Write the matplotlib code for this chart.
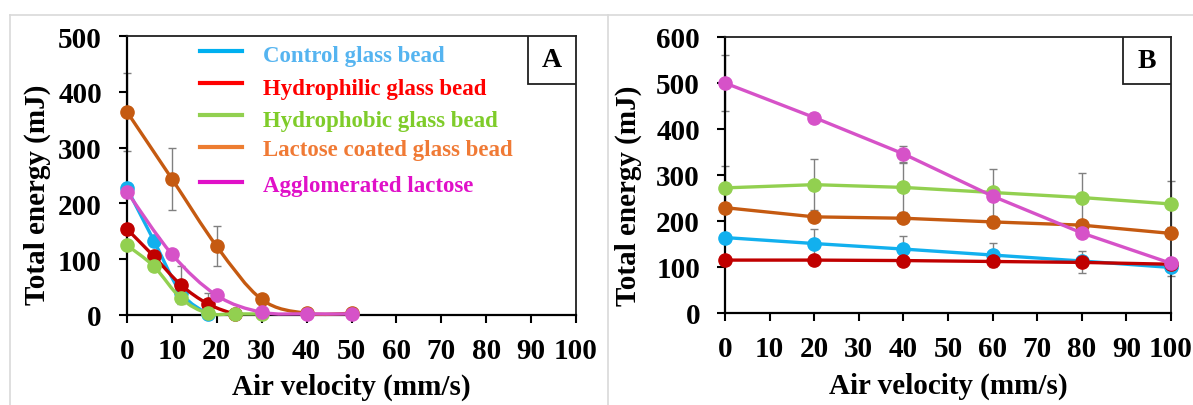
import numpy as np
import matplotlib
matplotlib.use("Agg")
import matplotlib.pyplot as plt
from matplotlib.path import Path
from matplotlib.patches import PathPatch, Rectangle
from matplotlib.lines import Line2D

plt.rcParams['font.family'] = ['Liberation Serif', 'DejaVu Serif']
plt.rcParams['font.weight'] = 'bold'

# ---------------- data: panel A ----------------
series_names = ["Control glass bead", "Hydrophilic glass bead", "Hydrophobic glass bead",
                "Lactose coated glass bead", "Agglomerated lactose"]

a_control_x = [0, 6, 12, 18]
a_control_y = [227, 133, 40, 1]
a_control_err = [10, 10, 8, 3]

a_hydrophilic_x = [0, 6, 12, 18, 24]
a_hydrophilic_y = [154, 105, 54, 20, 1]
a_hydrophilic_err = [8, 8, 34, 20, 2]

a_hydrophobic_x = [0, 6, 12, 18, 24, 30]
a_hydrophobic_y = [125, 87, 30, 3, 2, 2]
a_hydrophobic_err = [6, 6, 8, 3, 2, 2]

a_lactose_x = [0, 10, 20, 30, 40, 50]
a_lactose_y = [364, 244, 123, 28, 3, 3]
a_lactose_err = [70, 55, 36, 6, 2, 2]

a_agglom_x = [0, 10, 20, 30, 40, 50]
a_agglom_y = [221, 109, 35, 5, 2, 2]
a_agglom_err = [10, 8, 5, 2, 2, 2]

# ---------------- data: panel B ----------------
b_x = [0, 20, 40, 60, 80, 100]
b_control_y = [164, 151, 139, 126, 113, 99]
b_control_err = [8, 32, 29, 26, 10, 18]
b_hydrophilic_y = [115, 115, 114, 112, 110, 106]
b_hydrophilic_err = [5, 5, 5, 5, 24, 5]
b_hydrophobic_y = [272, 279, 273, 262, 251, 237]
b_hydrophobic_err = [48, 56, 54, 51, 53, 51]
b_lactose_y = [229, 209, 206, 198, 191, 173]
b_lactose_err = [8, 8, 8, 8, 8, 8]
b_agglom_y = [500, 425, 346, 254, 174, 108]
b_agglom_err = [60, 10, 18, 8, 6, 5]

x_ticks = list(range(0, 101, 10))
a_y_ticks = list(range(0, 501, 100))
b_y_ticks = list(range(0, 601, 100))

line_colors = ["#12b0ee", "#c00000", "#92d050", "#c55a11", "#d652c8"]
legend_line_colors = ["#00b0f0", "#ff0000", "#92d050", "#ed7d31", "#e010c8"]
legend_text_colors = ["#55b4f0", "#ff0000", "#7fcc2a", "#f07a35", "#e010c8"]
err_color = "#808080"


def smooth_path(xs, ys, t=1.0 / 6.0):
    """Cubic Bezier path through the points (Catmull-Rom style smoothing)."""
    pts = np.column_stack([xs, ys]).astype(float)
    n = len(pts)
    verts = [pts[0]]
    codes = [Path.MOVETO]
    for i in range(n - 1):
        p0 = pts[i - 1] if i > 0 else pts[i]
        p1 = pts[i]
        p2 = pts[i + 1]
        p3 = pts[i + 2] if i + 2 < n else pts[i + 1]
        c1 = p1 + (p2 - p0) * t
        c2 = p2 - (p3 - p1) * t
        verts += [c1, c2, p2]
        codes += [Path.CURVE4] * 3
    return Path(verts, codes)


fig = plt.figure(figsize=(11.93, 4.06), dpi=100)

# light grey chart-area borders
fig.add_artist(Line2D([10 / 1193, 1193 / 1193], [1 - 16 / 406] * 2, color="#d9d9d9", lw=1.2,
                      transform=fig.transFigure))
for xp in (10, 608):
    fig.add_artist(Line2D([xp / 1193] * 2, [0, 1 - 16 / 406], color="#d9d9d9", lw=1.2,
                          transform=fig.transFigure))

axA = fig.add_axes([127 / 1193, 90 / 406, 449 / 1193, 279 / 406])
axB = fig.add_axes([725 / 1193, 92 / 406, 446 / 1193, 276 / 406])

ms = 9.5
lw = 2.4


def style_axes(ax, yticks, label_x, label_y, xlabel_y):
    ax.set_xlim(0, 100)
    ax.set_ylim(yticks[0], yticks[-1])
    ax.set_xticks(x_ticks)
    ax.set_yticks(yticks)
    for s in ("left", "bottom"):
        ax.spines[s].set_linewidth(1.6)
        ax.spines[s].set_color("black")
    for s in ("top", "right"):
        ax.spines[s].set_linewidth(1.3)
        ax.spines[s].set_color("#202020")
    ax.tick_params(axis="both", direction="out", length=6, width=1.5, labelsize=21)
    ax.tick_params(axis="x", pad=10)
    ax.tick_params(axis="y", pad=12)
    for lab in ax.get_xticklabels() + ax.get_yticklabels():
        lab.set_fontweight("bold")
    ax.set_xlabel("Air velocity (mm/s)", fontsize=21, fontweight="bold")
    ax.set_ylabel("Total energy (mJ)", fontsize=21, fontweight="bold")
    ax.yaxis.set_label_coords(label_x, label_y)
    ax.xaxis.set_label_coords(0.5, xlabel_y)


# ---- panel A ----
a_sets = [
    (a_control_x, a_control_y, a_control_err),
    (a_hydrophilic_x, a_hydrophilic_y, a_hydrophilic_err),
    (a_hydrophobic_x, a_hydrophobic_y, a_hydrophobic_err),
    (a_lactose_x, a_lactose_y, a_lactose_err),
    (a_agglom_x, a_agglom_y, a_agglom_err),
]
for k, (xs, ys, es) in enumerate(a_sets):
    axA.errorbar(xs, ys, yerr=es, fmt="none", ecolor=err_color, elinewidth=1.0,
                 capsize=3, capthick=1.0, zorder=2, clip_on=False)
for k, (xs, ys, es) in enumerate(a_sets):
    patch = PathPatch(smooth_path(xs, ys), facecolor="none", edgecolor=line_colors[k],
                      lw=lw, zorder=3 + k * 0.1, clip_on=False, capstyle="round")
    axA.add_patch(patch)
    axA.plot(xs, ys, linestyle="none", marker="o", ms=ms, color=line_colors[k],
             zorder=3.05 + k * 0.1, clip_on=False)

style_axes(axA, a_y_ticks, -0.17, 0.434, -0.205)

# hand-placed legend in panel A
legend_rows = [52, 84, 116, 148, 183]
legend_base = [62, 95, 127, 156, 192]
for k, name in enumerate(series_names):
    yl = (316 - legend_rows[k]) / 279
    yb = (316 - legend_base[k]) / 279
    axA.add_line(Line2D([0.163, 0.256], [yl, yl], color=legend_line_colors[k], lw=3,
                        transform=axA.transAxes, zorder=6))
    axA.text(0.302, yb, name, color=legend_text_colors[k], fontsize=16.5, fontweight="bold",
             transform=axA.transAxes, va="baseline", ha="left", zorder=6)

axA.add_patch(Rectangle((0.893, 0.828), 0.107, 0.172, transform=axA.transAxes,
                        facecolor="white", edgecolor="#202020", lw=1.3, zorder=7))
axA.text(0.9465, 0.914, "A", transform=axA.transAxes, fontsize=20, fontweight="bold",
         ha="center", va="center", zorder=8)

# ---- panel B ----
b_sets = [
    (b_control_y, b_control_err),
    (b_hydrophilic_y, b_hydrophilic_err),
    (b_hydrophobic_y, b_hydrophobic_err),
    (b_lactose_y, b_lactose_err),
    (b_agglom_y, b_agglom_err),
]
for k, (ys, es) in enumerate(b_sets):
    axB.errorbar(b_x, ys, yerr=es, fmt="none", ecolor=err_color, elinewidth=1.0,
                 capsize=3, capthick=1.0, zorder=2, clip_on=False)
for k, (ys, es) in enumerate(b_sets):
    axB.plot(b_x, ys, marker="o", ms=ms, lw=lw, color=line_colors[k],
             zorder=3 + k * 0.1, clip_on=False)

style_axes(axB, b_y_ticks, -0.186, 0.43, -0.213)

axB.add_patch(Rectangle((0.892, 0.83), 0.108, 0.17, transform=axB.transAxes,
                        facecolor="white", edgecolor="#202020", lw=1.3, zorder=7))
axB.text(0.946, 0.915, "B", transform=axB.transAxes, fontsize=20, fontweight="bold",
         ha="center", va="center", zorder=8)

fig.savefig("out.png", dpi=100, facecolor="white")
